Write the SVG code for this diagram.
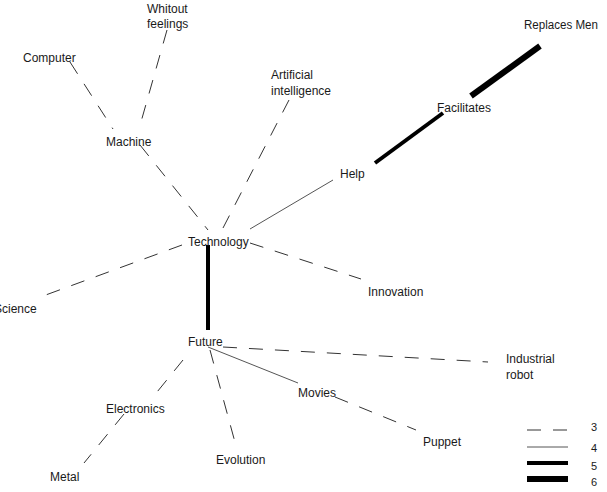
<svg xmlns="http://www.w3.org/2000/svg" width="607" height="492" viewBox="0 0 607 492">
<style>
text{font-family:"Liberation Sans",Arial,sans-serif;font-size:12px;fill:#1a1a1a}
.d{stroke:#333;stroke-width:1;stroke-dasharray:14 12;fill:none}
.s{stroke:#555;stroke-width:1;fill:none}
.w5{stroke:#000;stroke-width:4;fill:none}
.w6{stroke:#000;stroke-width:6;fill:none}
</style>
<rect width="607" height="492" fill="#fff"/>
<g id="connectors">
<line class="d" x1="70" y1="62" x2="113" y2="129"/>
<line class="d" x1="167" y1="30" x2="139" y2="129"/>
<line class="d" x1="140" y1="145" x2="208" y2="230"/>
<line class="d" x1="289" y1="100" x2="223" y2="228"/>
<line class="s" x1="333" y1="180" x2="250" y2="229"/>
<line class="w5" x1="375" y1="163" x2="443" y2="113"/>
<line class="w6" x1="471" y1="96" x2="540" y2="46"/>
<line class="d" x1="182" y1="245" x2="43" y2="296"/>
<line class="d" x1="250" y1="243" x2="361" y2="279"/>
<line class="w5" x1="208" y1="245" x2="208" y2="330"/>
<line class="d" x1="223" y1="347" x2="488" y2="362"/>
<line class="s" x1="208" y1="347" x2="298" y2="383"/>
<line class="d" x1="335" y1="397" x2="416" y2="430"/>
<line class="d" x1="183" y1="360" x2="153" y2="397"/>
<line class="d" x1="210" y1="350" x2="236" y2="446"/>
<line class="d" x1="124" y1="414" x2="84" y2="463"/>
</g>
<g id="n-whitout"><text x="147" y="13">Whitout</text><text x="147" y="28">feelings</text></g>
<g id="n-computer"><text x="23" y="62">Computer</text></g>
<g id="n-machine"><text x="106" y="146">Machine</text></g>
<g id="n-ai"><text x="271" y="79">Artificial</text><text x="271" y="95">intelligence</text></g>
<g id="n-technology"><text x="188" y="246">Technology</text></g>
<g id="n-replaces"><text x="524" y="29" textLength="74" lengthAdjust="spacingAndGlyphs">Replaces Men</text></g>
<g id="n-facilitates"><text x="437" y="112">Facilitates</text></g>
<g id="n-help"><text x="340" y="178">Help</text></g>
<g id="n-science"><text x="-6" y="313">Science</text></g>
<g id="n-innovation"><text x="368" y="296">Innovation</text></g>
<g id="n-future"><text x="188" y="346">Future</text></g>
<g id="n-industrial"><text x="506" y="363">Industrial</text><text x="506" y="379">robot</text></g>
<g id="n-movies"><text x="298" y="397">Movies</text></g>
<g id="n-puppet"><text x="423" y="446">Puppet</text></g>
<g id="n-electronics"><text x="106" y="413">Electronics</text></g>
<g id="n-evolution"><text x="216" y="464">Evolution</text></g>
<g id="n-metal"><text x="50" y="481">Metal</text></g>
<g id="legend">
<line class="d" x1="527" y1="430" x2="568" y2="430"/>
<line class="s" x1="527" y1="447" x2="568" y2="447"/>
<line class="w5" x1="527" y1="463" x2="568" y2="463"/>
<line class="w6" x1="527" y1="479" x2="568" y2="479"/>
<text x="591" y="431" style="font-size:11px">3</text>
<text x="591" y="452" style="font-size:11px">4</text>
<text x="591" y="470" style="font-size:11px">5</text>
<text x="591" y="486" style="font-size:11px">6</text>
</g>
</svg>
